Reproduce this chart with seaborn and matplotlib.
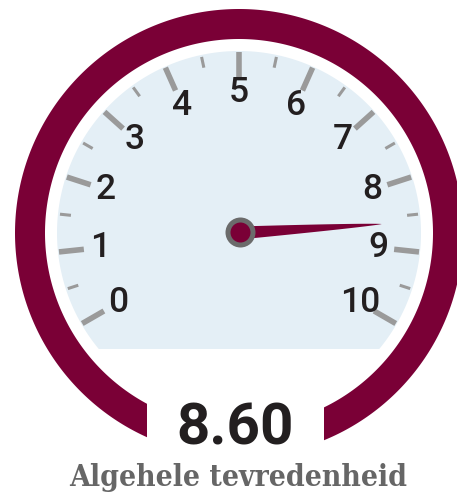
import numpy as np
import matplotlib
matplotlib.use("Agg")
import matplotlib.pyplot as plt
from matplotlib.patches import Polygon, Circle
import seaborn as sns

# ---- data ----
gauge_value = 8.60
scale_min, scale_max = 0, 10
major_ticks = list(range(0, 11))
minor_ticks = [v + 0.5 for v in range(0, 10)]
tick_labels = [str(v) for v in major_ticks]
value_label = "8.60"
title_label = "Algehele tevredenheid"

# ---- style ----
sns.set_style("white")
plt.rcParams['font.family'] = ['Roboto', 'DejaVu Sans']

MAROON = "#7A0036"
FACE = "#E4EFF6"
TICK = "#9A9A9A"
HUB = "#6B6B6B"
TEXT = "#231F20"
SUB = "#666666"

W, H = 457, 495
cx, cy = 239, 233  # gauge centre in pixel coords (from top-left)

fig = plt.figure(figsize=(W / 100, H / 100), dpi=100)
ax = fig.add_axes([0, 0, 1, 1])
ax.set_xlim(-cx, W - cx)
ax.set_ylim(-(H - cy), cy)
ax.set_aspect('equal')
ax.axis('off')

START, SWEEP = 210.0, 240.0


def ang(v):
    return np.radians(START - SWEEP * (v - scale_min) / (scale_max - scale_min))


# outer ring with a gap at the bottom (vertical cuts)
R_out, R_in = 224, 194
xl, xr = -92, 85
a_out0 = -np.degrees(np.arccos(xr / R_out))
a_out1 = 360 - np.degrees(np.arccos(xl / R_out))
a_in0 = -np.degrees(np.arccos(xr / R_in))
a_in1 = 360 - np.degrees(np.arccos(xl / R_in))
t_out = np.radians(np.linspace(a_out0, a_out1, 400))
t_in = np.radians(np.linspace(a_in1, a_in0, 400))
ring = np.vstack([np.c_[R_out * np.cos(t_out), R_out * np.sin(t_out)],
                  np.c_[R_in * np.cos(t_in), R_in * np.sin(t_in)]])
ax.add_patch(Polygon(ring, closed=True, facecolor=MAROON, edgecolor='none', zorder=1))

# face: circle cut flat at the bottom
R_face, y_cut = 182, -116
a_f = np.degrees(np.arcsin(y_cut / R_face))
t_f = np.radians(np.linspace(a_f, 180 - a_f, 400))
face = np.c_[R_face * np.cos(t_f), R_face * np.sin(t_f)]
ax.add_patch(Polygon(face, closed=True, facecolor=FACE, edgecolor='none', zorder=2))

# ticks
for v in major_ticks:
    a = ang(v)
    ax.plot([156 * np.cos(a), 181 * np.cos(a)], [156 * np.sin(a), 181 * np.sin(a)],
            color=TICK, lw=4.0, solid_capstyle='butt', zorder=3)
for v in minor_ticks:
    a = ang(v)
    ax.plot([169 * np.cos(a), 180 * np.cos(a)], [169 * np.sin(a), 180 * np.sin(a)],
            color=TICK, lw=2.2, solid_capstyle='butt', zorder=3)

# tick labels
R_lab = 140
for v, lab in zip(major_ticks, tick_labels):
    a = ang(v)
    ax.text(R_lab * np.cos(a), R_lab * np.sin(a), lab, ha='center', va='center',
            fontsize=25.5, fontweight='medium', color=TEXT, zorder=4)

# needle
L = 143
a = ang(gauge_value)
s = np.linspace(0, L, 100)
half = 6.5 * (1 - s / L) ** 0.75
top = np.c_[s, half]
bot = np.c_[s[::-1], -half[::-1]]
loc = np.vstack([top, bot])
rot = np.array([[np.cos(a), -np.sin(a)], [np.sin(a), np.cos(a)]])
needle = loc @ rot.T
ax.add_patch(Polygon(needle, closed=True, facecolor=MAROON, edgecolor='none', zorder=5))

# hub
ax.add_patch(Circle((1.5, 0.5), 15, facecolor=HUB, edgecolor='none', zorder=6))
ax.add_patch(Circle((1.5, 0.5), 10, facecolor=MAROON, edgecolor='none', zorder=7))

# value and title
ax.text(-4, 233 - 429, value_label, ha='center', va='center', fontsize=42,
        fontweight='semibold', color=TEXT, zorder=8)
ax.text(-1, 233 - 486, title_label, ha='center', va='baseline', fontsize=21.5,
        fontweight='bold', family=['DejaVu Serif'], fontstretch='condensed',
        color=SUB, zorder=8)

fig.savefig("out.png", dpi=100)
